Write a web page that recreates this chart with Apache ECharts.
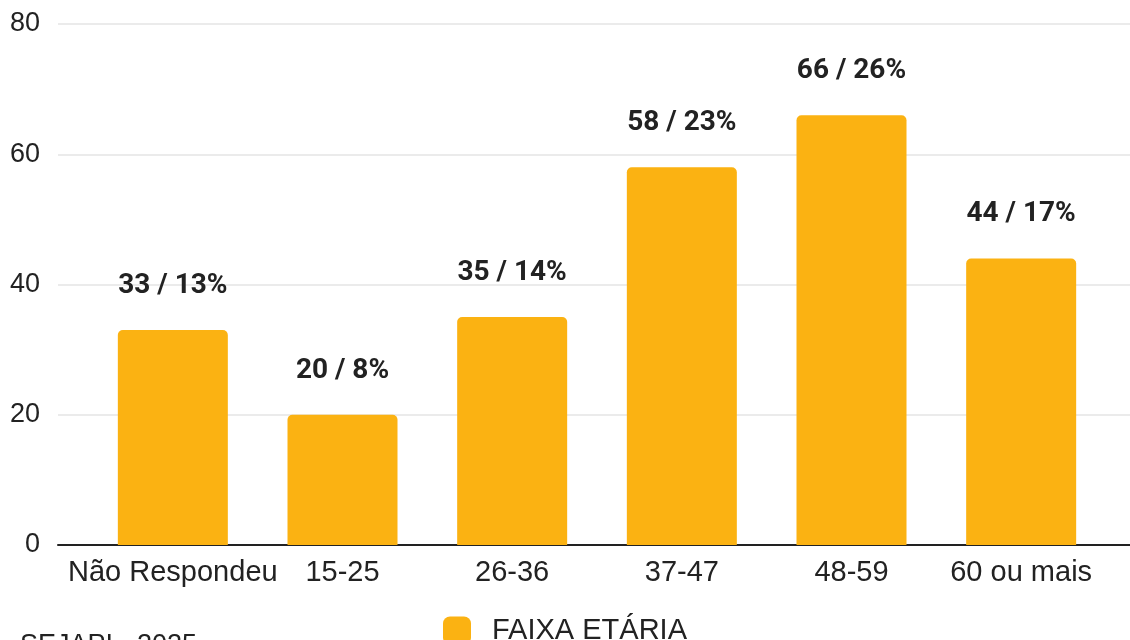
<!DOCTYPE html>
<html>
<head>
<meta charset="utf-8">
<style>
  html, body { margin: 0; padding: 0; background: #fff; }
  #chart { width: 1130px; height: 640px; }
</style>
<script src="https://cdn.jsdelivr.net/npm/echarts@6/dist/echarts.min.js"></script>
</head>
<body>
<div id="chart"></div>
<script>
// data
const categories = ['Não Respondeu', '15-25', '26-36', '37-47', '48-59', '60 ou mais']
const counts = [33, 20, 35, 58, 66, 44]
const percents = [13, 8, 14, 23, 26, 17]
const yTicks = { min: 0, max: 80, interval: 20 }
const seriesName = 'FAIXA ETÁRIA'
const sourceNote = 'SEJAPI - 2025'

const chart = echarts.init(document.getElementById('chart'))
const baseFont = { fontFamily: 'Liberation Sans, Arial, sans-serif', color: '#222' }

chart.setOption({
  animation: false,
  // grid 0 only carries the wide gridlines + base line, grid 1 holds the bars
  grid: [
    { left: 58, right: 0, top: 24, bottom: 95 },
    { left: 88, right: 24, top: 24, bottom: 95 }
  ],
  xAxis: [
    {
      gridIndex: 0,
      type: 'value',
      min: 0,
      max: 1,
      axisLine: { show: true, lineStyle: { color: '#222', width: 2 } },
      axisTick: { show: false },
      axisLabel: { show: false },
      splitLine: { show: false }
    },
    {
      gridIndex: 1,
      type: 'category',
      data: categories,
      axisLine: { show: false },
      axisTick: { show: false },
      axisLabel: Object.assign({ margin: 13, interval: 0, fontSize: 29 }, baseFont)
    }
  ],
  yAxis: [
    {
      gridIndex: 0,
      type: 'value',
      min: yTicks.min,
      max: yTicks.max,
      interval: yTicks.interval,
      axisLine: { show: false },
      axisTick: { show: false },
      axisLabel: Object.assign({ margin: 18, fontSize: 27 }, baseFont),
      splitLine: { lineStyle: { color: '#ebebeb', width: 2 } }
    },
    {
      gridIndex: 1,
      type: 'value',
      min: yTicks.min,
      max: yTicks.max,
      interval: yTicks.interval,
      show: false
    }
  ],
  legend: {
    bottom: -10,
    left: 'center',
    itemWidth: 28,
    itemHeight: 28,
    itemGap: 20,
    icon: 'roundRect',
    textStyle: Object.assign({ padding: [0, 0, 0, 16], fontSize: 29 }, baseFont),
    data: [seriesName]
  },
  graphic: [{
    type: 'text',
    left: 20,
    top: 632,
    style: { text: sourceNote, font: '27px "Liberation Sans", Arial, sans-serif', fill: '#222' }
  }],
  series: [{
    name: seriesName,
    type: 'bar',
    xAxisIndex: 1,
    yAxisIndex: 1,
    barWidth: 110,
    data: counts,
    itemStyle: { color: '#fbb212', borderRadius: [5, 5, 0, 0] },
    label: {
      show: true,
      position: 'top',
      distance: 30,
      fontFamily: 'Roboto',
      fontWeight: 'bold',
      fontSize: 28,
      color: '#222',
      formatter: p => counts[p.dataIndex] + ' / ' + percents[p.dataIndex] + '%'
    }
  }]
})
</script>
</body>
</html>
